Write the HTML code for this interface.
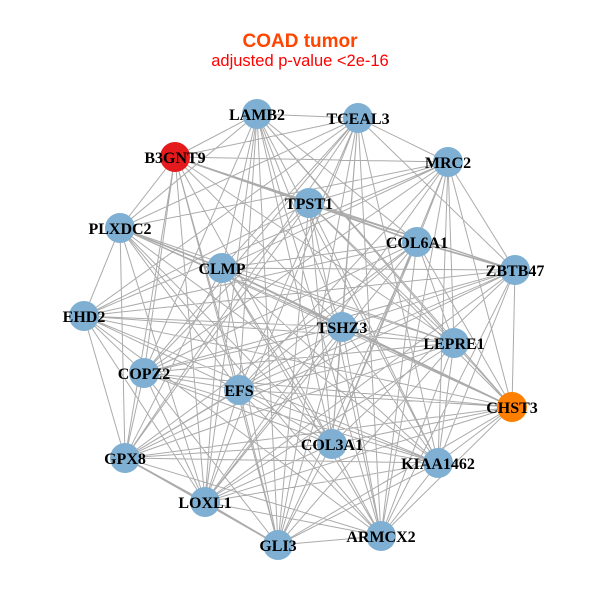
<!DOCTYPE html>
<html><head><meta charset="utf-8"><style>
html,body{margin:0;padding:0;background:#fff;}
svg{display:block;}
.t{font-family:"Liberation Sans",Arial,sans-serif;text-anchor:middle;}
.l{font-family:"Liberation Serif","Times New Roman",serif;font-weight:bold;font-size:16px;text-anchor:middle;fill:#000;}
</style></head><body>
<svg width="600" height="600" viewBox="0 0 600 600" xmlns="http://www.w3.org/2000/svg">
<rect width="600" height="600" fill="#fff"/>
<text class="t" x="300" y="47" font-size="19" font-weight="bold" fill="#FF4500">COAD tumor</text>
<text class="t" x="300" y="66" font-size="16.5" fill="#FF0000">adjusted p-value &lt;2e-16</text>
<g stroke="#ababab" stroke-width="1" fill="none">
<path d="M257 114L358 118M257 114L175 157M257 114L120 228M257 114L417 242M257 114L222 268M257 114L342 327M257 114L454 343M257 114L144 373M257 114L239 390M257 114L512 407M257 114L332 444M257 114L438 463M257 114L205 502M257 114L381 536M257 114L278 545
M358 118L175 157M358 118L448 162M358 118L120 228M358 118L222 268M358 118L515 270M358 118L84 316M358 118L342 327M358 118L144 373M358 118L239 390M358 118L332 444M358 118L438 463M358 118L125 458M358 118L205 502M358 118L381 536M358 118L278 545
M175 157L448 162M175 157L309 203M175 157L120 228M175 157L417 242M175 157L515 270M175 157L342 327M175 157L454 343M175 157L144 373M175 157L239 390M175 157L332 444M175 157L125 458M175 157L205 502M175 157L278 545
M448 162L309 203M448 162L120 228M448 162L417 242M448 162L222 268M448 162L515 270M448 162L84 316M448 162L454 343M448 162L144 373M448 162L239 390M448 162L512 407M448 162L332 444M448 162L438 463M448 162L205 502M448 162L381 536
M309 203L417 242M309 203L515 270M309 203L84 316M309 203L454 343M309 203L144 373M309 203L512 407M309 203L332 444M309 203L438 463M309 203L125 458M309 203L381 536M309 203L278 545
M120 228L222 268M120 228L84 316M120 228L342 327M120 228L454 343M120 228L239 390M120 228L512 407M120 228L332 444M120 228L438 463M120 228L125 458M120 228L205 502M120 228L381 536
M417 242L222 268M417 242L515 270M417 242L84 316M417 242L454 343M417 242L144 373M417 242L239 390M417 242L512 407M417 242L332 444M417 242L125 458M417 242L205 502M417 242L381 536M417 242L278 545
M222 268L515 270M222 268L342 327M222 268L454 343M222 268L512 407M222 268L332 444M222 268L438 463M222 268L125 458M222 268L205 502M222 268L381 536M222 268L278 545
M515 270L84 316M515 270L342 327M515 270L144 373M515 270L239 390M515 270L512 407M515 270L332 444M515 270L438 463M515 270L125 458M515 270L205 502M515 270L381 536
M84 316L342 327M84 316L454 343M84 316L144 373M84 316L239 390M84 316L512 407M84 316L438 463M84 316L125 458M84 316L205 502M84 316L381 536
M342 327L454 343M342 327L144 373M342 327L512 407M342 327L332 444M342 327L438 463M342 327L125 458M342 327L205 502M342 327L381 536M342 327L278 545
M454 343L144 373M454 343L239 390M454 343L512 407M454 343L438 463M454 343L125 458M454 343L205 502M454 343L381 536M454 343L278 545
M144 373L239 390M144 373L512 407M144 373L332 444M144 373L438 463M144 373L125 458M144 373L205 502M144 373L278 545
M239 390L512 407M239 390L332 444M239 390L438 463M239 390L125 458M239 390L205 502M239 390L381 536M239 390L278 545
M512 407L332 444M512 407L438 463M512 407L125 458M512 407L205 502M512 407L381 536M512 407L278 545
M332 444L438 463M332 444L125 458M332 444L205 502M332 444L381 536M332 444L278 545
M438 463L125 458M438 463L205 502M438 463L381 536M438 463L278 545
M125 458L205 502M125 458L381 536M125 458L278 545
M205 502L381 536M205 502L278 545
M381 536L278 545"/>
</g>
<g stroke="#ababab" stroke-width="1.7" fill="none">
<path d="M175 157L309 203M309 203L417 242M417 242L515 270M120 228L222 268M222 268L512 407M125 458L205 502M205 502L278 545"/>
</g>
<g>
<circle cx="257" cy="114" r="15" fill="#7FB0D3"/>
<circle cx="358" cy="118" r="15" fill="#7FB0D3"/>
<circle cx="175" cy="157" r="15" fill="#E41A1C"/>
<circle cx="448" cy="162" r="15" fill="#7FB0D3"/>
<circle cx="309" cy="203" r="15" fill="#7FB0D3"/>
<circle cx="120" cy="228" r="15" fill="#7FB0D3"/>
<circle cx="417" cy="242" r="15" fill="#7FB0D3"/>
<circle cx="222" cy="268" r="15" fill="#7FB0D3"/>
<circle cx="515" cy="270" r="15" fill="#7FB0D3"/>
<circle cx="84" cy="316" r="15" fill="#7FB0D3"/>
<circle cx="342" cy="327" r="15" fill="#7FB0D3"/>
<circle cx="454" cy="343" r="15" fill="#7FB0D3"/>
<circle cx="144" cy="373" r="15" fill="#7FB0D3"/>
<circle cx="239" cy="390" r="15" fill="#7FB0D3"/>
<circle cx="512" cy="407" r="15" fill="#FF7F00"/>
<circle cx="332" cy="444" r="15" fill="#7FB0D3"/>
<circle cx="438" cy="463" r="15" fill="#7FB0D3"/>
<circle cx="125" cy="458" r="15" fill="#7FB0D3"/>
<circle cx="205" cy="502" r="15" fill="#7FB0D3"/>
<circle cx="381" cy="536" r="15" fill="#7FB0D3"/>
<circle cx="278" cy="545" r="15" fill="#7FB0D3"/>
</g>
<g>
<text class="l" x="257" y="120">LAMB2</text>
<text class="l" x="358" y="124">TCEAL3</text>
<text class="l" x="175" y="163">B3GNT9</text>
<text class="l" x="448" y="168">MRC2</text>
<text class="l" x="309" y="209">TPST1</text>
<text class="l" x="120" y="234">PLXDC2</text>
<text class="l" x="417" y="248">COL6A1</text>
<text class="l" x="222" y="274">CLMP</text>
<text class="l" x="515" y="276">ZBTB47</text>
<text class="l" x="84" y="322">EHD2</text>
<text class="l" x="342" y="333">TSHZ3</text>
<text class="l" x="454" y="349">LEPRE1</text>
<text class="l" x="144" y="379">COPZ2</text>
<text class="l" x="239" y="396">EFS</text>
<text class="l" x="512" y="413">CHST3</text>
<text class="l" x="332" y="450">COL3A1</text>
<text class="l" x="438" y="469">KIAA1462</text>
<text class="l" x="125" y="464">GPX8</text>
<text class="l" x="205" y="508">LOXL1</text>
<text class="l" x="381" y="542">ARMCX2</text>
<text class="l" x="278" y="551">GLI3</text>
</g>
</svg>
</body></html>
